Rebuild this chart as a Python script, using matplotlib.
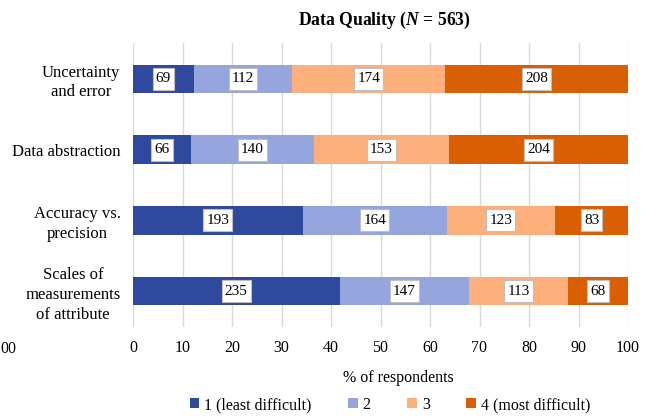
import matplotlib
matplotlib.use('Agg')
import matplotlib.pyplot as plt
from matplotlib.path import Path
import numpy as np

plt.rcParams['font.family'] = ['Liberation Serif', 'DejaVu Serif']
plt.rcParams['mathtext.fontset'] = 'custom'
plt.rcParams['mathtext.rm'] = 'Liberation Serif'
plt.rcParams['mathtext.it'] = 'Liberation Serif:italic'
plt.rcParams['mathtext.bf'] = 'Liberation Serif:bold'
plt.rcParams['mathtext.bfit'] = 'Liberation Serif:bold:italic'

# data
categories = ['Uncertainty\nand error', 'Data abstraction', 'Accuracy vs.\nprecision',
              'Scales of\nmeasurements\nof attribute']
series_names = ['1 (least difficult)', '2', '3', '4 (most difficult)']
counts = {
    '1 (least difficult)': [69, 66, 193, 235],
    '2': [112, 140, 164, 147],
    '3': [174, 153, 123, 113],
    '4 (most difficult)': [208, 204, 83, 68],
}
n_total = 563
colors = ['#2f499e', '#95a6de', '#fdb07b', '#d95f02']
xticks = list(range(0, 101, 10))


def label_box(x0, y0, width, height, mutation_size):
    # narrow horizontal padding, taller vertical padding
    px = 0.2 * mutation_size
    py = 0.3 * mutation_size
    x0, y0 = x0 - px, y0 - py
    x1, y1 = x0 + width + 2 * px, y0 + height + 2 * py
    return Path([(x0, y0), (x1, y0), (x1, y1), (x0, y1), (x0, y0)], closed=True)


fig = plt.figure(figsize=(6.52, 4.19), dpi=100)
ax = fig.add_axes([133/652, 1 - 326.5/419, 495/652, 283/419])

y = np.arange(len(categories))
left = np.zeros(len(categories))
for name, col in zip(series_names, colors):
    vals = np.array(counts[name])
    pct = vals / n_total * 100
    ax.barh(y, pct, left=left, height=0.4, color=col, label=name, zorder=3)
    for yi, l, p, v in zip(y, left, pct, vals):
        ax.text(l + p / 2, yi, str(v), ha='center', va='center', fontsize=11, zorder=4,
                bbox=dict(boxstyle=label_box, fc='white', ec='#bfbfbf', lw=0.8))
    left += pct

ax.set_xlim(0, 100)
ax.set_ylim(len(categories) - 0.5, -0.5)
ax.set_yticks(y)
ax.set_yticklabels(categories, fontsize=12, linespacing=1.3, multialignment='center')
ax.set_xticks(xticks)
ax.tick_params(axis='x', labelsize=11.5, length=0, pad=10)
ax.tick_params(axis='y', length=0, pad=9)
ax.grid(axis='x', color='#d9d9d9', lw=1, zorder=0)
for s in ax.spines.values():
    s.set_visible(False)

fig.text(398/652, 1 - 378/419, '% of respondents', ha='center', va='center', fontsize=11.5)
fig.text(384/652, 1 - 20/419, r'Data Quality ($\mathbfit{N}$ = 563)', ha='center', va='center',
         fontsize=12.7, fontweight='bold')
fig.text(0, 1 - 349/419, '00', ha='left', va='center', fontsize=11.5)

fig.legend(loc='center', bbox_to_anchor=(390/652, 1 - 405/419), ncol=4, frameon=False,
           fontsize=11.5, handlelength=0.6, handleheight=0.6, handletextpad=0.3,
           columnspacing=2.3)

fig.savefig('out.png', dpi=100)
